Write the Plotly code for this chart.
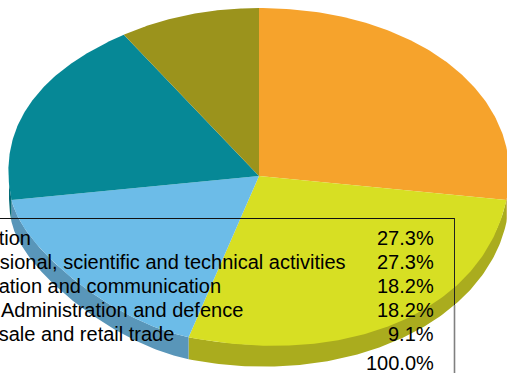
import numpy as np
import plotly.graph_objects as go

categories = ["Education", "Professional, scientific and technical activities",
              "Information and communication", "Public Administration and defence",
              "Wholesale and retail trade"]
percent = [27.3, 27.3, 18.2, 18.2, 9.1]
total_label = "100.0%"
top_colors = ["#f6a32c", "#d7df23", "#6cbce8", "#068896", "#9b931c"]
side_colors = ["#c58223", "#aaac1e", "#5996b9", "#046b76", "#7c7616"]
# each slice edge in the source is one cubic curve, so it bulges slightly off the true ellipse
edge_bulge = [0.02, 0.06, -0.09, 0.03, 0.0]
rim_bulge = [0.0, 0.02, -0.09, 0.0, 0.0]

W, H = 507, 373
CX, CY, RX, RY, DEPTH = 259, 176, 250, 168, 22
FONT = dict(family="Liberation Sans, Arial, sans-serif", size=20, color="#000000")

fracs = np.array(percent) / sum(percent)
ends = np.cumsum(fracs) * 2 * np.pi
starts = ends - fracs * 2 * np.pi
shift = DEPTH / RY

fig = go.Figure()


def arc(a, b, bulge):
    k = 4 / 3 * np.tan((b - a) / 4) + bulge
    p0 = np.array([np.sin(a), np.cos(a)])
    p3 = np.array([np.sin(b), np.cos(b)])
    p1 = p0 + k * np.array([np.cos(a), -np.sin(a)])
    p2 = p3 - k * np.array([np.cos(b), -np.sin(b)])
    t = np.linspace(0, 1, 120)[:, None]
    pts = (1 - t) ** 3 * p0 + 3 * (1 - t) ** 2 * t * p1 + 3 * (1 - t) * t ** 2 * p2 + t ** 3 * p3
    return pts[:, 0], pts[:, 1]


# visible rim: the part of each slice edge on the front half of the disc
for a, b, c, g in zip(starts, ends, side_colors, rim_bulge):
    x, y = arc(a, b, g)
    front = y <= 0
    if front.sum() < 2:
        continue
    x, y = x[front], y[front]
    xs = np.r_[x, x[::-1]]
    ys = np.r_[y, y[::-1] - shift]
    fig.add_trace(go.Scatter(x=xs, y=ys, mode="lines", fill="toself", fillcolor=c,
                             line=dict(width=0), hoverinfo="skip", showlegend=False))

# top face
for a, b, c, g in zip(starts, ends, top_colors, edge_bulge):
    x, y = arc(a, b, g)
    fig.add_trace(go.Scatter(x=np.r_[0, x, 0], y=np.r_[0, y, 0], mode="lines", fill="toself",
                             fillcolor=c, line=dict(width=0), hoverinfo="skip", showlegend=False))

rows_y = [238, 262, 286, 310, 334]
annotations = []
for name, p, py in zip(categories, percent, rows_y):
    annotations.append(dict(text=name, xref="paper", yref="paper", x=-60.5 / W, y=1 - py / H,
                            xanchor="left", yanchor="middle", showarrow=False, font=FONT))
    annotations.append(dict(text=f"{p:.1f}%", xref="paper", yref="paper", x=436 / W, y=1 - py / H,
                            xanchor="right", yanchor="middle", showarrow=False, font=FONT))
annotations.append(dict(text=total_label, xref="paper", yref="paper", x=436 / W, y=1 - 363 / H,
                        xanchor="right", yanchor="middle", showarrow=False, font=FONT))

shapes = [
    dict(type="line", xref="paper", yref="paper", x0=0, x1=454.5 / W, y0=1 - 218.5 / H, y1=1 - 218.5 / H,
         line=dict(color="#111111", width=1)),
    dict(type="line", xref="paper", yref="paper", x0=454.5 / W, x1=454.5 / W, y0=1 - 218 / H, y1=1 - 305 / H,
         line=dict(color="#222222", width=1)),
    dict(type="line", xref="paper", yref="paper", x0=454.5 / W, x1=454.5 / W, y0=1 - 305 / H, y1=0,
         line=dict(color="#808080", width=1.6)),
]

fig.update_layout(
    width=W, height=H, margin=dict(l=0, r=0, t=0, b=0),
    paper_bgcolor="#ffffff", plot_bgcolor="#ffffff", showlegend=False,
    xaxis=dict(visible=False, range=[-CX / RX, (W - CX) / RX], fixedrange=True),
    yaxis=dict(visible=False, range=[-(H - CY) / RY, CY / RY], fixedrange=True),
    annotations=annotations, shapes=shapes,
)

fig.write_html("out.html", config=dict(displayModeBar=False),
               post_script="document.body.style.margin='0';document.body.style.overflow='hidden';")
